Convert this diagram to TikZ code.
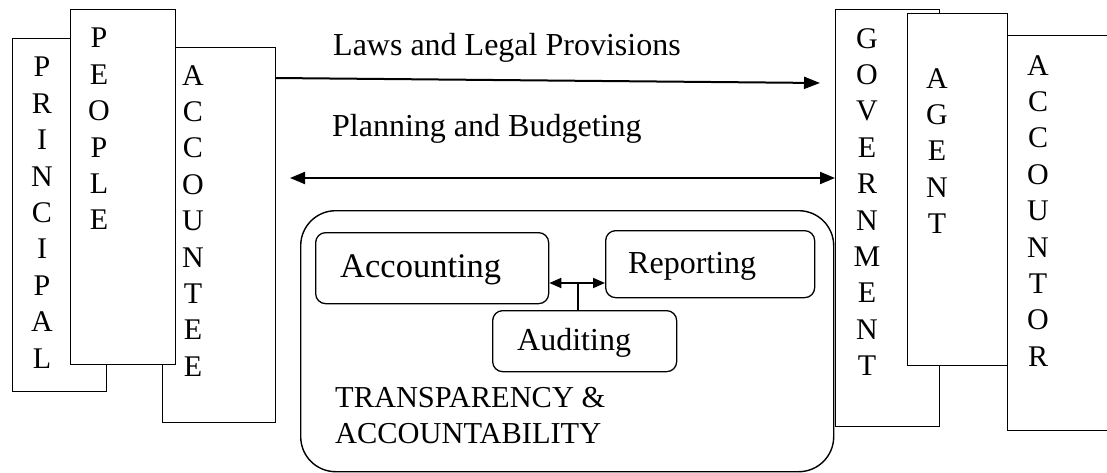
\documentclass[tikz,border=0pt]{standalone}
\usepackage{fontspec}
\setmainfont{Liberation Serif}
\usetikzlibrary{arrows.meta}
\tikzset{
  vbox/.style={draw, line width=1.4pt, fill=white, inner sep=0, anchor=north west},
  vlet/.style={inner sep=0, anchor=north, align=center, font=\fontsize{30}{36.4}\selectfont},
  lbl/.style={inner sep=0, anchor=base west, font=\fontsize{32}{38}\selectfont},
  rbox/.style={draw, line width=1.3pt, rounded corners=10pt, inner sep=0, anchor=north west},
  itxt/.style={inner sep=0, anchor=base west},
  arr/.style={line width=2pt, -{Triangle[length=16pt,width=12pt]}},
  darr/.style={line width=2pt, {Triangle[length=15pt,width=12pt]}-{Triangle[length=15pt,width=12pt]}},
  sarr/.style={line width=1.8pt, {Triangle[length=12pt,width=10pt]}-{Triangle[length=12pt,width=10pt]}}
}
\begin{document}
\begin{tikzpicture}[x=1pt,y=-1pt]
\useasboundingbox (0,0) rectangle (1107,473);
% left stack
\node[vbox, minimum width=94pt, minimum height=353pt] (prin) at (12,38) {};
\node[vbox, minimum width=113pt, minimum height=375pt] (acctee) at (162,47) {};
\node[vbox, minimum width=105pt, minimum height=355pt] (people) at (70,9) {};
\node[vlet] (tprin) at (42,57) {P\\R\\I\\N\\C\\I\\P\\A\\L};
\node[vlet] (tpeople) at (99,28) {P\\E\\O\\P\\L\\E};
\node[vlet] (tacctee) at (193,65) {A\\C\\C\\O\\U\\N\\T\\E\\E};
% right stack
\node[vbox, minimum width=104pt, minimum height=417pt] (gov) at (835,9) {};
\node[vbox, minimum width=100pt, minimum height=352pt] (agent) at (907,13) {};
\node[vbox, minimum width=120pt, minimum height=395pt] (acctor) at (1007,35) {};
\node[vlet] (tgov) at (867,28) {G\\O\\V\\E\\R\\N\\M\\E\\N\\T};
\node[vlet] (tagent) at (937,68) {A\\G\\E\\N\\T};
\node[vlet] (tacctor) at (1038,55) {A\\C\\C\\O\\U\\N\\T\\O\\R};
% top arrows
\node[lbl] (laws) at (333,56) {Laws and Legal Provisions};
\node[lbl] (plan) at (332,137) {Planning and Budgeting};
\coordinate (lawsS) at (275,78);
\coordinate (lawsE) at (820,83);
\draw[arr] (lawsS) -- (lawsE);
\coordinate (planS) at (290,178);
\draw[darr] (planS) -- (gov.west |- planS);
% central block
\node[draw, line width=1.4pt, rounded corners=35pt, inner sep=0, anchor=north west, minimum width=533pt, minimum height=261pt] (ta) at (300,210) {};
\node[rbox, minimum width=233pt, minimum height=71pt] (acc) at (315,232) {};
\node[rbox, minimum width=209pt, minimum height=67pt] (rep) at (605,230) {};
\node[rbox, minimum width=184pt, minimum height=61pt] (aud) at (492,310) {};
\node[itxt, font=\fontsize{34.5}{40}\selectfont] (tacc) at (340,277) {Accounting};
\node[itxt, font=\fontsize{32}{38}\selectfont] (trep) at (628,273) {Reporting};
\node[itxt, font=\fontsize{32}{38}\selectfont] (taud) at (517,350) {Auditing};
\node[itxt, font=\fontsize{30.4}{36}\selectfont] (tt1) at (335,407) {TRANSPARENCY \&};
\node[itxt, font=\fontsize{30.4}{36}\selectfont] (tt2) at (335,443) {ACCOUNTABILITY};
\coordinate (mid) at (578,283);
\draw[sarr] (acc.east |- mid) -- (rep.west |- mid);
\draw[line width=1.5pt] (aud.north -| mid) -- (mid);
\end{tikzpicture}
\end{document}
